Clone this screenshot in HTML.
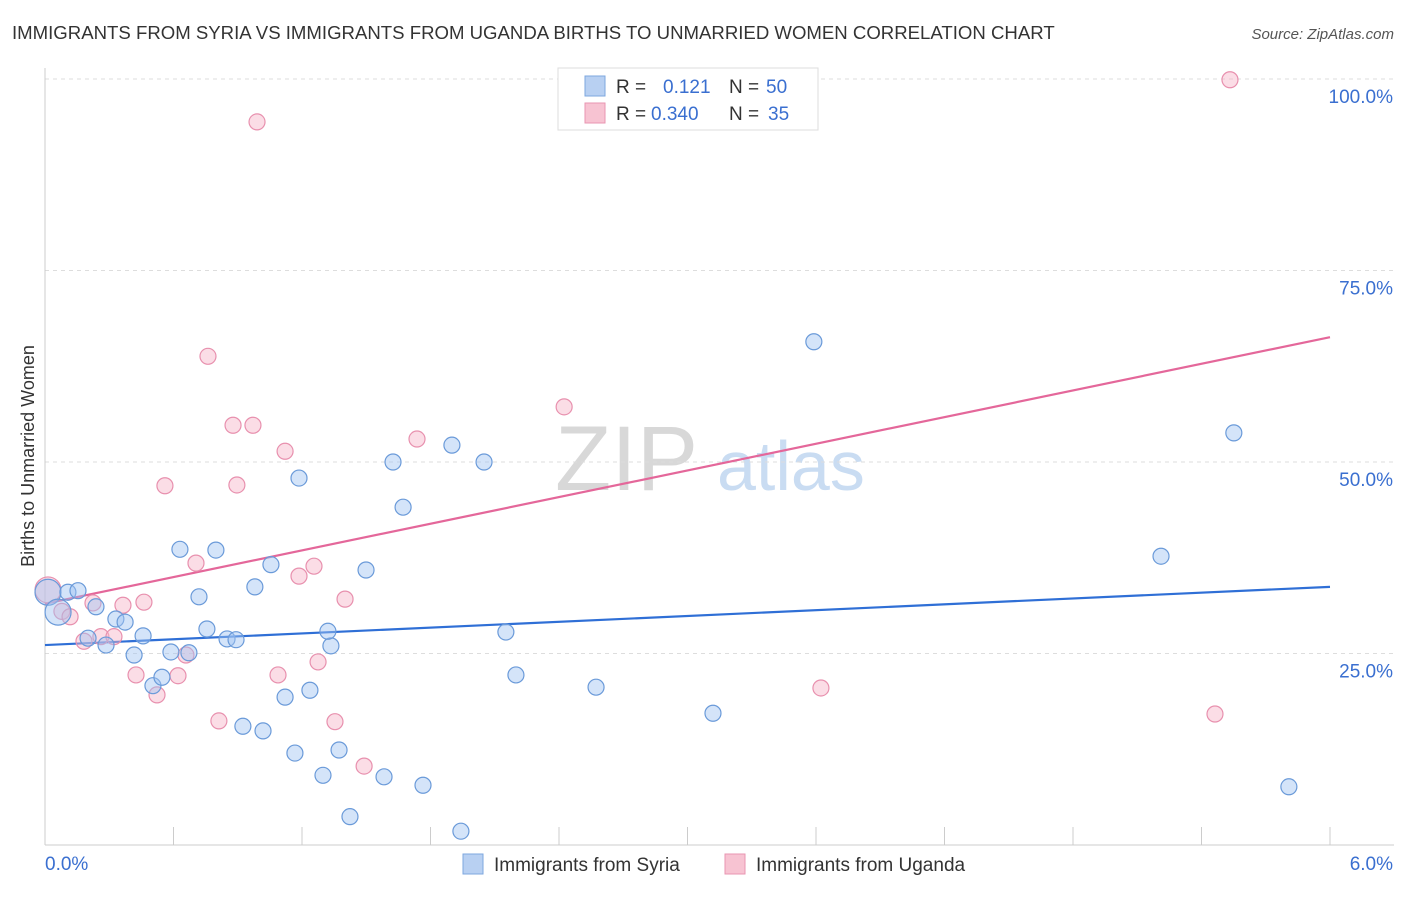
<!DOCTYPE html>
<html><head><meta charset="utf-8">
<style>
body{margin:0;background:#fff;font-family:"Liberation Sans",sans-serif;}
svg text{font-family:"Liberation Sans",sans-serif;}
</style></head>
<body>
<svg id="chart" width="1406" height="892" xmlns="http://www.w3.org/2000/svg">
<text x="12" y="39" font-size="18.6" fill="#333">IMMIGRANTS FROM SYRIA VS IMMIGRANTS FROM UGANDA BIRTHS TO UNMARRIED WOMEN CORRELATION CHART</text>
<text x="1394" y="39" font-size="15" fill="#555" text-anchor="end" font-style="italic">Source: ZipAtlas.com</text>
<text transform="translate(34,456) rotate(-90)" font-size="18" fill="#333" text-anchor="middle">Births to Unmarried Women</text>
<g>
<text x="555" y="490" font-size="92" fill="#d8d8d8" font-family="Liberation Serif,serif">ZIP</text>
<text x="717" y="490" font-size="70" fill="#c9dcf2">atlas</text>
</g>
<g id="grid"></g>
<g id="axes"></g>
<g id="lines"></g>
<g id="points"></g>
<g>
<rect x="558" y="68" width="260" height="62" fill="#fff" stroke="#ddd"/>
<rect x="585" y="76" width="20" height="20" fill="#b8d0f2" stroke="#7ea7df"/>
<text x="616" y="93" font-size="19" fill="#333">R =</text>
<text x="663" y="93" font-size="19" fill="#3a6fd0">0.121</text>
<text x="729" y="93" font-size="19" fill="#333">N =</text>
<text x="766" y="93" font-size="19" fill="#3a6fd0">50</text>
<rect x="585" y="103" width="20" height="20" fill="#f7c3d2" stroke="#e896b1"/>
<text x="616" y="120" font-size="19" fill="#333">R =</text>
<text x="651" y="120" font-size="19" fill="#3a6fd0">0.340</text>
<text x="729" y="120" font-size="19" fill="#333">N =</text>
<text x="768" y="120" font-size="19" fill="#3a6fd0">35</text>
</g>
<g>
<rect x="463" y="854" width="20" height="20" fill="#b8d0f2" stroke="#7ea7df"/>
<text x="494" y="871" font-size="19" fill="#333">Immigrants from Syria</text>
<rect x="725" y="854" width="20" height="20" fill="#f7c3d2" stroke="#e896b1"/>
<text x="756" y="871" font-size="19" fill="#333">Immigrants from Uganda</text>
</g>
</svg>
<script>
const xTicks=[0,0.6,1.2,1.8,2.4,3.0,3.6,4.2,4.8,5.4,6.0];
const yTicks=[25,50,75,100];
const yTickLabels=["25.0%","50.0%","75.0%","100.0%"];
const xEndLabels=["0.0%","6.0%"];
const syriaX=[0.014,0.061,0.107,0.154,0.238,0.201,0.285,0.331,0.374,0.458,0.416,0.504,0.546,0.588,0.672,0.630,0.719,0.756,0.798,0.850,0.892,0.924,0.980,1.018,1.055,1.121,1.167,1.186,1.237,1.298,1.335,1.373,1.321,1.424,1.499,1.583,1.625,1.672,1.765,1.900,1.942,2.050,2.152,2.199,2.573,3.119,3.590,5.211,5.551,5.808];
const syriaY=[33.0,30.4,33.0,33.2,31.1,27.0,26.1,29.5,29.1,27.3,24.8,20.8,21.9,25.2,25.1,38.6,32.4,28.2,38.5,26.9,26.8,15.5,33.7,14.9,36.6,19.3,12.0,47.9,20.2,9.1,26.0,12.4,27.9,3.7,35.9,8.9,50.0,44.1,7.8,52.2,1.8,50.0,27.8,22.2,20.6,17.2,65.7,37.7,53.8,7.6];
const ugandaX=[0.014,0.079,0.117,0.182,0.224,0.261,0.322,0.364,0.425,0.462,0.523,0.560,0.621,0.658,0.705,0.761,0.812,0.878,0.896,0.971,0.990,1.088,1.121,1.186,1.256,1.275,1.354,1.401,1.490,1.737,2.424,3.623,5.463,5.533];
const ugandaY=[33.3,30.5,29.8,26.6,31.6,27.2,27.2,31.3,22.2,31.7,19.6,46.9,22.1,24.8,36.8,63.8,16.2,54.8,47.0,54.8,94.4,22.2,51.4,35.1,36.4,23.9,16.1,32.1,10.3,53.0,57.2,20.5,17.1,99.9];
const syriaTrend=[26.1,33.7];
const ugandaTrend=[31.5,66.3];
const NS="http://www.w3.org/2000/svg";
const X0=45,X1=1330,Y0=845,Ypx100=79;
function sx(v){return X0+(v-0)/6*(X1-X0);}
function sy(v){return Y0-v/100*(Y0-Ypx100);}
function mk(tag,attrs,parent){const e=document.createElementNS(NS,tag);for(const k in attrs)e.setAttribute(k,attrs[k]);document.getElementById(parent).appendChild(e);return e;}
yTicks.forEach((t,i)=>{
 const g=mk('line',{x1:X0,x2:1394,y1:sy(t),y2:sy(t),stroke:'#ddd','stroke-dasharray':'4,4'},'grid');
 
 
 const l=mk('text',{x:1393,y:sy(t)+24,'font-size':19,fill:'#3a6fd0','text-anchor':'end'},'grid');
 l.textContent=yTickLabels[i];
 
 
});
const ax=mk('line',{x1:X0,x2:X0,y1:68,y2:Y0,stroke:'#ccc'},'axes');


const bx=mk('line',{x1:X0,x2:1394,y1:Y0,y2:Y0,stroke:'#ccc'},'axes');


xTicks.forEach(t=>{
 const tk=mk('line',{x1:sx(t),x2:sx(t),y1:827,y2:Y0,stroke:'#ccc'},'axes');
 
 
});
const l0=mk('text',{x:45,y:870,'font-size':19,fill:'#3a6fd0'},'axes');l0.textContent=xEndLabels[0];


const l1=mk('text',{x:1393,y:870,'font-size':19,fill:'#3a6fd0','text-anchor':'end'},'axes');l1.textContent=xEndLabels[1];


function pts(xs,ys,fill,stroke,name,bigCount){
 xs.forEach((x,i)=>{
  const c=mk('circle',{cx:sx(x),cy:sy(ys[i]),r:i<bigCount?13:8,fill:fill,stroke:stroke,'stroke-width':1.2},'points');
  
  
 });
}
pts(ugandaX,ugandaY,'rgba(246,180,200,0.45)','#e890ae','uganda-point',1);
pts(syriaX,syriaY,'rgba(160,195,242,0.45)','#6a9ad9','syria-point',2);
const tb=mk('line',{x1:sx(0),y1:sy(syriaTrend[0]),x2:sx(6),y2:sy(syriaTrend[1]),stroke:'#2f6fd6','stroke-width':2.2},'lines');


const tp=mk('line',{x1:sx(0),y1:sy(ugandaTrend[0]),x2:sx(6),y2:sy(ugandaTrend[1]),stroke:'#e4679a','stroke-width':2.2},'lines');


</script>
</body></html>
